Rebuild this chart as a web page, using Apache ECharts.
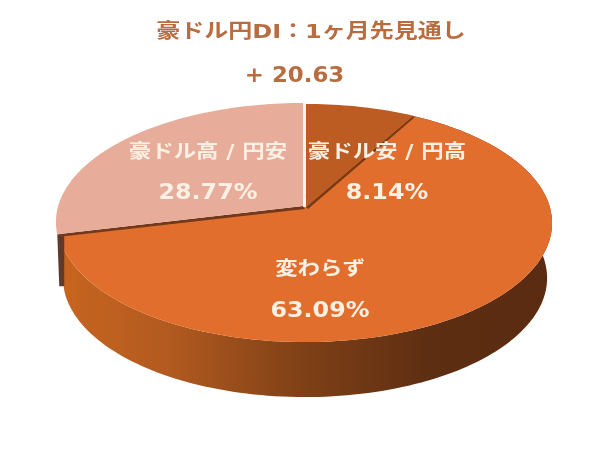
<!DOCTYPE html>
<html><head><meta charset="utf-8">
<style>html,body{margin:0;padding:0;background:#fff}#c{width:600px;height:452px}</style>
<script src="https://cdn.jsdelivr.net/npm/echarts@6/dist/echarts.min.js"></script>
</head><body><div id="c"></div>
<script>
const categories = ['豪ドル安 / 円高', '変わらず', '豪ドル高 / 円安'];
const values = [8.14, 63.09, 28.77];
const titleLines = ['豪ドル円DI：1ヶ月先見通し', '+ 20.63'];

const FONT = '"DejaVu Sans","Noto Sans CJK JP",sans-serif';
const topColors = ['#BC5C22', '#E26E2E', '#E8AC9A'];
const labelPos = [[387, 153, 193], [320, 270, 311], [208, 153, 193]];
const offsets = [[1, 0], [0, 0], [-2, -1]];
const cx = 305, cy = 207, A = 244.8, B = 116.9, K = 0.1346;
const depth = 55, bottomScale = 0.98;

function project(frac, off) {
  const t = frac * 2 * Math.PI, u = Math.sin(t), v = -Math.cos(t), w = 1 - K * v;
  return [cx + A * u / w + off[0], cy + B * v / w + off[1]];
}
function rim(f0, f1, off) {
  const pts = [], n = Math.max(4, Math.ceil((f1 - f0) * 240));
  for (let i = 0; i <= n; i++) pts.push(project(f0 + (f1 - f0) * i / n, off));
  return pts;
}
const total = values.reduce((a, b) => a + b, 0);
const starts = values.reduce((acc, v, i) => { acc.push(i ? acc[i - 1] + values[i - 1] / total : 0); return acc; }, []);

function renderItem(params, api) {
  const i = api.value(1), f0 = starts[i], f1 = f0 + api.value(0) / total;
  const off = offsets[i], apex = [cx + off[0], cy + off[1]];
  const children = [];
  const edge = rim(f0, f1, off);
  // side wall of the large front slice
  if (i === 1) {
    const bottom = edge.map(p => [cx + (p[0] - cx) * bottomScale, p[1] + depth]).reverse();
    children.push({
      type: 'polygon', z2: 1, shape: { points: edge.concat(bottom) },
      style: { fill: new echarts.graphic.LinearGradient(0, 0, 1, 0, [
        { offset: 0, color: '#C8651F' }, { offset: 0.22, color: '#B25A20' },
        { offset: 0.5, color: '#7E4016' }, { offset: 0.75, color: '#5E2E12' }, { offset: 1, color: '#5A2B11' }
      ]) }
    });
  }
  // dark cut faces along the slice boundaries
  if (i === 2) {
    const c = edge[0];
    children.push({
      type: 'polygon', z2: 3,
      shape: { points: [apex, c, [c[0] + 7, c[1] + 2], [apex[0] + 2, apex[1] + 3]] },
      style: { fill: '#74391B' }
    });
    children.push({
      type: 'polygon', z2: 3,
      shape: { points: [c, [c[0] + 7, c[1] + 2], [c[0] + 7, c[1] + 52], [c[0] + 2, c[1] + 52]] },
      style: { fill: '#5F3A2A' }
    });
  }
  if (i === 0) {
    const c = edge[edge.length - 1];
    children.push({
      type: 'polygon', z2: 3,
      shape: { points: [apex, c, [c[0] + 1, c[1] + 2], [apex[0] + 2, apex[1] + 2]] },
      style: { fill: '#7A3A14' }
    });
  }
  // top face
  children.push({
    type: 'polygon', z2: i === 1 ? 2 : 4,
    shape: { points: [apex].concat(edge) },
    style: { fill: topColors[i] }
  });
  // separator between pink and dark slices
  if (i === 2) {
    const c = edge[edge.length - 1];
    children.push({
      type: 'line', z2: 5, shape: { x1: apex[0] + 1.5, y1: apex[1] + 1, x2: c[0] + 1.5, y2: c[1] },
      style: { stroke: '#FBF3EC', lineWidth: 2.5 }
    });
  }
  // labels
  const lp = labelPos[i];
  [[categories[i], lp[1]], [api.value(0).toFixed(2) + '%', lp[2]]].forEach(([text, y], k) => {
    children.push({
      type: 'text', z2: 6, x: lp[0], y: y, scaleX: k ? 1.08 : 1.18,
      style: {
        text: text, x: 0, y: 0, fill: '#FBF0E4', align: 'center', verticalAlign: 'middle',
        font: `${k ? 'bold 22px' : 'bold 19px'} ${FONT}`
      }
    });
  });
  return { type: 'group', children: children };
}

const chart = echarts.init(document.getElementById('c'), null, { renderer: 'canvas' });
chart.setOption({
  animation: false,
  backgroundColor: '#ffffff',
  graphic: [
    { type: 'text', x: 311, y: 33, scaleX: 1.2, style: { text: titleLines[0], x: 0, y: 0, align: 'center', verticalAlign: 'middle', fill: '#B96C3F', font: `bold 20px ${FONT}` } },
    { type: 'text', x: 294.5, y: 76, scaleX: 1.04, style: { text: titleLines[1], x: 0, y: 0, align: 'center', verticalAlign: 'middle', fill: '#B96C3F', font: `bold 22px ${FONT}` } }
  ],
  series: [{
    type: 'custom', coordinateSystem: 'none', renderItem: renderItem,
    data: values.map((v, i) => [v, i]), silent: true
  }]
});
</script></body></html>
